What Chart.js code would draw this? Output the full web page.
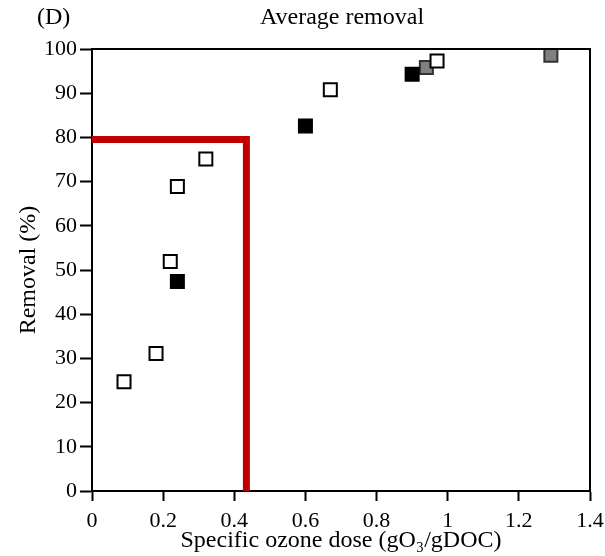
<!DOCTYPE html>
<html>
<head>
<meta charset="utf-8">
<script src="https://cdn.jsdelivr.net/npm/chart.js@4.4.1/dist/chart.umd.min.js"></script>
<style>
  html, body { margin: 0; padding: 0; background: #fff; }
  #wrap { width: 605px; height: 556px; }
</style>
</head>
<body>
<div id="wrap"><canvas id="myChart" width="605" height="556"></canvas></div>
<script>
// open squares
var openX = [0.09, 0.18, 0.22, 0.24, 0.32, 0.67, 0.97]
var openY = [24.7, 31.1, 51.9, 68.9, 75.1, 90.8, 97.3]
// black squares
var blackX = [0.24, 0.60, 0.90]
var blackY = [47.4, 82.6, 94.3]
// grey squares
var greyX = [0.94, 1.29]
var greyY = [95.8, 98.6]
// red guide line
var redX = [0, 0.434, 0.434]
var redY = [79.5, 79.5, 0]

var xTicks = [0, 0.2, 0.4, 0.6, 0.8, 1, 1.2, 1.4]

function pts(xs, ys) {
    var out = []
    for (var i = 0; i < xs.length; i++) out.push({x: xs[i], y: ys[i]})
    return out
}

var serif = "'Liberation Serif', 'Times New Roman', serif"
Chart.defaults.font.family = serif
Chart.defaults.color = '#000'

var frame = {
    id: 'frame',
    afterDraw: function(chart) {
        var ctx = chart.ctx, a = chart.chartArea
        ctx.save()
        ctx.strokeStyle = '#000'
        ctx.lineWidth = 2
        ctx.beginPath()
        ctx.moveTo(a.left, a.top)
        ctx.lineTo(a.right, a.top)
        ctx.lineTo(a.right, a.bottom)
        ctx.stroke()
        ctx.fillStyle = '#000'
        ctx.font = "24px " + serif
        ctx.textBaseline = 'middle'
        ctx.textAlign = 'left'
        ctx.fillText('(D)', 37, 18)
        ctx.textAlign = 'center'
        ctx.fillText('Average removal', 342, 18)
        ctx.restore()
    }
}

var pr = 9.2

var myChart = document.getElementById("myChart").getContext('2d')
var chart = new Chart(myChart, {
    type: 'scatter',
    data: {
        datasets: [
            {
                label: 'guide',
                data: pts(redX, redY),
                showLine: true,
                borderColor: '#c00000',
                borderWidth: 7,
                pointRadius: 0,
                borderCapStyle: 'butt',
                borderJoinStyle: 'miter',
                order: 2
            },
            {
                label: 'open',
                data: pts(openX, openY),
                pointStyle: 'rect',
                pointRadius: pr,
                backgroundColor: '#fff',
                borderColor: '#000',
                borderWidth: 2,
                order: 1
            },
            {
                label: 'black',
                data: pts(blackX, blackY),
                pointStyle: 'rect',
                pointRadius: pr,
                backgroundColor: '#000',
                borderColor: '#000',
                borderWidth: 2,
                order: 1
            },
            {
                label: 'grey',
                data: pts(greyX, greyY),
                pointStyle: 'rect',
                pointRadius: pr,
                backgroundColor: '#808080',
                borderColor: '#333',
                borderWidth: 2,
                order: 1
            }
        ]
    },
    options: {
        responsive: false,
        animation: false,
        layout: { padding: { left: 0, top: 49, right: 15, bottom: 0 } },
        plugins: {
            legend: { display: false },
            tooltip: { enabled: false }
        },
        scales: {
            x: {
                type: 'linear',
                min: 0,
                max: 1.4,
                afterFit: function(s) { s.height = 65; s.paddingLeft = 0; s.paddingRight = 0 },
                afterBuildTicks: function(s) {
                    s.ticks = xTicks.map(function(v) { return {value: v} })
                },
                ticks: {
                    font: { size: 22 },
                    padding: 7,
                    maxRotation: 0,
                    callback: function(v) { return String(+v.toFixed(1)) }
                },
                grid: { drawOnChartArea: false, tickLength: 10, tickWidth: 2, tickColor: '#000' },
                border: { color: '#000', width: 2 },
                title: {
                    display: true,
                    text: 'Specific ozone dose (gO\u2083/gDOC)',
                    font: { size: 24 },
                    padding: { top: 0, bottom: 1 }
                }
            },
            y: {
                min: 0,
                max: 100,
                afterFit: function(s) { s.width = 92; s.paddingTop = 0; s.paddingBottom = 0 },
                ticks: { stepSize: 10, font: { size: 22 }, padding: 3 },
                grid: { drawOnChartArea: false, tickLength: 12, tickWidth: 2, tickColor: '#000' },
                border: { color: '#000', width: 2 },
                title: {
                    display: true,
                    text: 'Removal (%)',
                    font: { size: 24 },
                    padding: { top: 14, bottom: 0 }
                }
            }
        }
    },
    plugins: [frame]
})
</script>
</body>
</html>
